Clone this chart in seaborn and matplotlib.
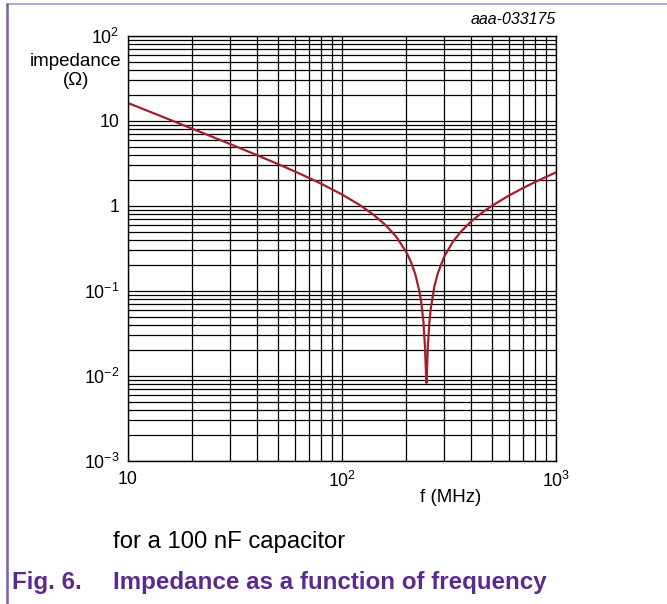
import numpy as np
import pandas as pd
import matplotlib
matplotlib.use("Agg")
import matplotlib.pyplot as plt
import seaborn as sns

# frequency (MHz) and impedance (ohm)
freq_mhz = [10, 12, 15, 20, 25, 30, 40, 50, 60, 70, 80, 100, 120, 140, 160,
            180, 200, 210, 220, 230, 235, 240, 244, 246, 248, 250, 252, 256,
            260, 270, 280, 300, 330, 360, 400, 450, 500, 600, 700, 800, 900,
            1000]
impedance = [16.28, 13.56, 10.83, 8.10, 6.456, 5.356, 3.971, 3.129, 2.559,
             2.144, 1.826, 1.366, 1.041, 0.794, 0.595, 0.429, 0.285, 0.220,
             0.158, 0.0993, 0.0709, 0.0441, 0.0230, 0.0136, 0.0083, 0.0134,
             0.0226, 0.0425, 0.0627, 0.112, 0.160, 0.252, 0.381, 0.501, 0.653,
             0.831, 0.999, 1.319, 1.623, 1.917, 2.205, 2.488]

y_ticks = [1e-3, 1e-2, 1e-1, 1, 10, 100]
y_labels = [r"$\mathregular{10^{-3}}$", r"$\mathregular{10^{-2}}$",
            r"$\mathregular{10^{-1}}$", "1", "10", r"$\mathregular{10^{2}}$"]
x_ticks = [10, 100, 1000]
x_labels = ["10", r"$\mathregular{10^{2}}$", r"$\mathregular{10^{3}}$"]

sns.set_theme(style="white")
plt.rcParams["font.family"] = ["Liberation Sans", "DejaVu Sans"]
plt.rcParams["mathtext.fontset"] = "custom"
plt.rcParams["mathtext.rm"] = "Liberation Sans"
plt.rcParams["text.color"] = "black"

W, H = 667, 604
fig = plt.figure(figsize=(W / 100, H / 100), dpi=100)
ax = fig.add_axes([128 / W, 1 - 461 / H, 428 / W, 425 / H])

df = pd.DataFrame({"f": freq_mhz, "z": impedance})
sns.lineplot(data=df, x="f", y="z", ax=ax, color="#a31f2b", lw=1.6)

ax.set_xscale("log")
ax.set_yscale("log")
ax.set_xlim(10, 1000)
ax.set_ylim(1e-3, 1e2)

ax.set_xticks(x_ticks)
ax.set_xticklabels(x_labels)
ax.set_yticks(y_ticks)
ax.set_yticklabels(y_labels)
ax.xaxis.set_minor_locator(matplotlib.ticker.LogLocator(base=10, subs=np.arange(2, 10)))
ax.yaxis.set_minor_locator(matplotlib.ticker.LogLocator(base=10, subs=np.arange(2, 10)))
ax.xaxis.set_minor_formatter(matplotlib.ticker.NullFormatter())
ax.yaxis.set_minor_formatter(matplotlib.ticker.NullFormatter())
ax.tick_params(which="both", length=0)
ax.tick_params(axis="x", pad=7, labelsize=12.8, labelcolor="black")
ax.tick_params(axis="y", pad=6, labelsize=12.8, labelcolor="black")

ax.grid(True, which="both", color="black", lw=0.9)
ax.set_axisbelow(True)
for s in ax.spines.values():
    s.set_color("black")
    s.set_linewidth(1.0)
ax.set_xlabel("")
ax.set_ylabel("")

fig.text(76 / W, 1 - 71 / H, "impedance\n(Ω)", ha="center", va="center",
         fontsize=13.5, linespacing=1.2)
fig.text(451 / W, 1 - 497 / H, "f (MHz)", ha="center", va="center", fontsize=13.5)
fig.text(556 / W, 1 - 20 / H, "aaa-033175", ha="right", va="center",
         fontsize=11.5, style="italic")
fig.text(113 / W, 1 - 542 / H, "for a 100 nF capacitor", ha="left", va="center",
         fontsize=17.2)
fig.text(12 / W, 1 - 582 / H, "Fig. 6.", ha="left", va="center", fontsize=17.4,
         fontweight="bold", color="#5b2b8c")
fig.text(113 / W, 1 - 582 / H, "Impedance as a function of frequency", ha="left",
         va="center", fontsize=17.4, fontweight="bold", color="#5b2b8c")

# page frame lines
fig.add_artist(plt.Line2D([7 / W, 1], [1 - 4 / H, 1 - 4 / H], color="#a994cc", lw=1.2))
fig.add_artist(plt.Line2D([7 / W, 7 / W], [0, 1 - 4 / H], color="#7b5ea7", lw=1.8))

fig.savefig("out.png", dpi=100)
